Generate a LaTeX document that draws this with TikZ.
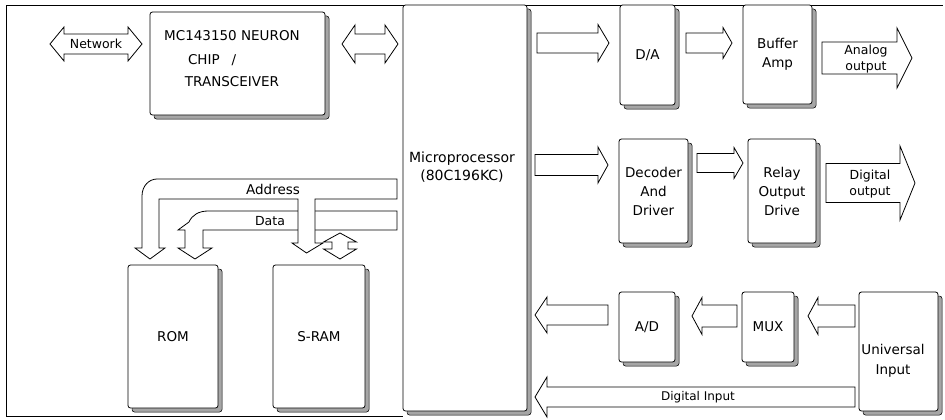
\documentclass[tikz,border=0pt]{standalone}
\usepackage{fontspec}
\setmainfont{DejaVu Sans}
\usetikzlibrary{calc,shadows}
\tikzset{
 box/.style={draw, fill=white, line width=0.8pt, rounded corners=2.5pt, inner sep=0pt, align=center,
   font=\fontsize{13.5}{19}\selectfont,
   general shadow={draw=black, fill=gray!70, line width=0.5pt, shadow xshift=4pt, shadow yshift=-4pt}},
 fat/.style={draw, fill=white, line width=0.8pt, line join=miter},
 lbl/.style={inner sep=0pt, align=center, font=\fontsize{12.5}{16}\selectfont},
 frameline/.style={line width=0.8pt},
}
% box: name, x1, y1, x2, y2, text
\newcommand\bx[6]{\node[box, minimum width={#4-#2}, minimum height={#5-#3}] (#1) at ({(#2+#4)/2},{(#3+#5)/2}) {#6};}
% single horizontal block arrow: tail, tip, half shaft, half head, head length (signed)
\newcommand\harrow[5]{\draw[fat] let \p1=(#1), \p2=(#2) in
  ({\x1},{\y1+#3}) -- ({\x2-1*(#5)},{\y1+#3}) -- ({\x2-1*(#5)},{\y1+#4}) -- ({\x2},{\y1})
  -- ({\x2-1*(#5)},{\y1-#4}) -- ({\x2-1*(#5)},{\y1-#3}) -- ({\x1},{\y1-#3}) -- cycle;}
% double horizontal block arrow: left tip, right tip, half shaft, half head, head length
\newcommand\dharrow[5]{\draw[fat] let \p1=(#1), \p2=(#2) in
  ({\x1},{\y1}) -- ({\x1+#5},{\y1+#4}) -- ({\x1+#5},{\y1+#3}) -- ({\x2-#5},{\y1+#3}) -- ({\x2-#5},{\y1+#4}) -- ({\x2},{\y1})
  -- ({\x2-#5},{\y1-#4}) -- ({\x2-#5},{\y1-#3}) -- ({\x1+#5},{\y1-#3}) -- ({\x1+#5},{\y1-#4}) -- cycle;}
\begin{document}
\begin{tikzpicture}[x=1pt,y=-1pt]
\useasboundingbox (0,0) rectangle (945,420);
% outer frame
\draw[frameline] (6,5) -- (943,5);
\draw[frameline] (403,5) -- (6,5) -- (6,416) -- (403,416);

% boxes
\bx{neuron}{150}{12}{325}{115}{}
\node[lbl, font=\fontsize{13.5}{22}\selectfont] (neutext) at (232,59) {MC143150 NEURON\\[2pt]\makebox[88pt][l]{CHIP\hspace{12pt}/}\\TRANSCEIVER};
\bx{mp}{403}{5}{527}{411}{}
\node[lbl, font=\fontsize{14}{18}\selectfont] (mptext) at (462,167) {Microprocessor\\(80C196KC)};
\bx{da}{620}{5}{675}{105}{D/A}
\bx{buf}{743}{5}{812}{104}{Buffer\\Amp}
\bx{dec}{619}{139}{688}{243}{Decoder\\And\\Driver}
\bx{relay}{748}{139}{816}{243}{Relay\\Output\\Drive}
\bx{ad}{619}{292}{675}{362}{A/D}
\bx{mux}{742}{292}{794}{362}{MUX}
\bx{uni}{859}{292}{938}{411}{}
\node[lbl, font=\fontsize{13.5}{20}\selectfont] (unitext) at (893,361) {Universal\\Input};
\bx{rom}{128}{265}{218}{408}{ROM}
\bx{sram}{273}{265}{365}{408}{S-RAM}

% arrow end points
\coordinate (netL) at (50,44);   \coordinate (netR) at (142,44);
\coordinate (nmL) at (342,44);   \coordinate (nmR) at (398,44);
\coordinate (mdaT) at (537,43);  \coordinate (mdaH) at (609,43);
\coordinate (dabT) at (686,43);  \coordinate (dabH) at (732,43);
\coordinate (aoT) at (822,58);   \coordinate (aoH) at (912,58);
\coordinate (mdeT) at (535,165); \coordinate (mdeH) at (608,165);
\coordinate (derT) at (697,163); \coordinate (derH) at (743,163);
\coordinate (doT) at (826,183);  \coordinate (doH) at (915,183);
\coordinate (admT) at (608,315); \coordinate (admH) at (535,315);
\coordinate (muxT) at (737,316); \coordinate (muxH) at (692,316);
\coordinate (uniT) at (855,316); \coordinate (uniH) at (808,316);
\coordinate (diT) at (855,397);  \coordinate (diH) at (535,397);

\dharrow{netL}{netR}{10pt}{17pt}{14pt}
\node[lbl, font=\fontsize{12.5}{14}\selectfont] (netlbl) at (96,44) {Network};
\dharrow{nmL}{nmR}{10pt}{19pt}{13pt}
\harrow{mdaT}{mdaH}{10pt}{18.5pt}{11pt}
\harrow{dabT}{dabH}{10pt}{15.5pt}{9pt}
\harrow{aoT}{aoH}{16pt}{30pt}{15pt}
\node[lbl] (aolbl) at (866,59) {Analog\\output};
\harrow{mdeT}{mdeH}{10.5pt}{18pt}{10pt}
\harrow{derT}{derH}{9.5pt}{15.5pt}{9pt}
\harrow{doT}{doH}{19.5pt}{37pt}{15pt}
\node[lbl] (dolbl) at (870,184) {Digital\\output};
\harrow{admT}{admH}{10pt}{18pt}{-12pt}
\harrow{muxT}{muxH}{11pt}{18.5pt}{-10pt}
\harrow{uniT}{uniH}{11pt}{18.5pt}{-10pt}
\harrow{diT}{diH}{10pt}{20pt}{-12pt}
\node[lbl, font=\fontsize{12}{16}\selectfont] (dilbl) at (698,397) {Digital Input};

% data bus
\draw[fat] (397,211) -- (208,211) .. controls (199,211) and (192,215) .. (189,222) -- (178,230) -- (185,230)
  -- (185,248) -- (178,248) -- (195,259) -- (212,248) -- (203,248) -- (203,230) -- (397,230) -- cycle;
\node[lbl, font=\fontsize{12.5}{15}\selectfont] (datalbl) at (270,221) {Data};
% address bus
\draw[fat] (397,179) -- (157,179) .. controls (149,179) and (142,186) .. (142,196) -- (142,248) -- (135,248)
  -- (150,259) -- (165,248) -- (159,248) -- (159,199) -- (298,199) -- (298,243) -- (292,243) -- (306.5,253)
  -- (323,243) -- (315,243) -- (315,199) -- (397,199) -- cycle;
\node[lbl, font=\fontsize{13.5}{16}\selectfont] (addrlbl) at (273,189) {Address};
% S-RAM data arrow
\draw[fat] (340,233) -- (356.5,242) -- (348,242) -- (348,249) -- (356.5,249) -- (340,259) -- (323.5,249)
  -- (332,249) -- (332,242) -- (323.5,242) -- cycle;
\end{tikzpicture}
\end{document}
